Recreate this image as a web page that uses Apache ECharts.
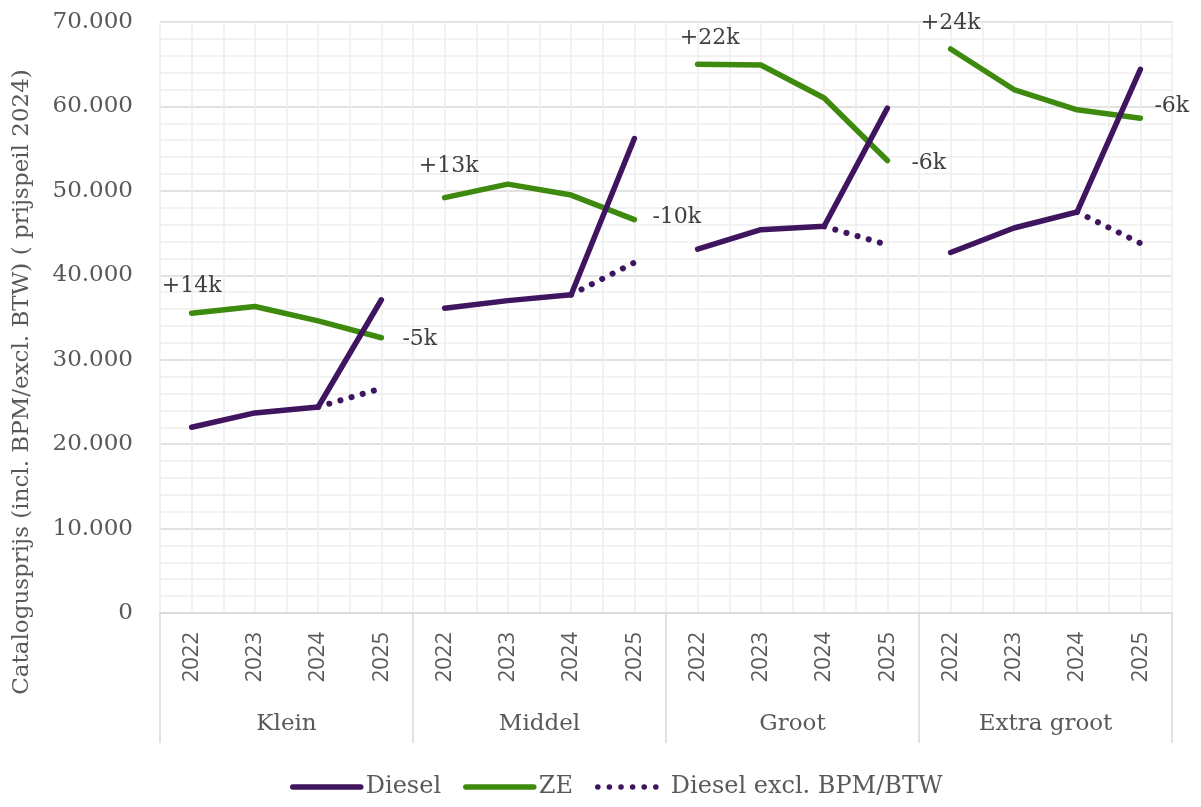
<!DOCTYPE html>
<html>
<head>
<meta charset="utf-8">
<script src="https://cdn.jsdelivr.net/npm/echarts@6/dist/echarts.min.js"></script>
<style>
html,body{margin:0;padding:0;background:#fff;}
#chart{width:1201px;height:807px;}
</style>
</head>
<body>
<div id="chart"></div>
<script>
const years = ['2022','2023','2024','2025'];
const groups = ['Klein','Middel','Groot','Extra groot'];
const yTicks = [0,10000,20000,30000,40000,50000,60000,70000];
const diesel = [22000,23700,24400,37100, 36100,37000,37700,56200, 43100,45400,45800,59800, 42700,45600,47500,64400];
const ze = [35500,36300,34600,32600, 49200,50800,49500,46600, 65000,64900,61000,53600, 66800,62000,59600,58600];
const dieselExcl = [null,null,24400,26600, null,null,37700,41500, null,null,45800,43600, null,null,47500,43800];
const zeStartLabels = ['+14k','+13k','+22k','+24k'];
const zeEndLabels = ['-5k','-10k','-6k','-6k'];

const SERIF = 'DejaVu Serif';
const SANS = 'Open Sans';
const TXT = '#595959';
const PURPLE = '#40155f';
const GREEN = '#3e8a0e';

const categories = [];
groups.forEach(() => years.forEach(y => categories.push(y)));

const startOffsets = [[0,-4],[4,-8],[12,-3],[0,-3]];
const endOffsets = [[3,2],[0,-2],[6,3],[-4,-12]];

function groupSlice(arr, g, mapFn) {
  return arr.map((v, i) => {
    if (Math.floor(i / 4) !== g) return null;
    return mapFn ? mapFn(v, i) : v;
  });
}

const series = [];
groups.forEach((grp, g) => {
  series.push({
    name: 'Diesel', type: 'line', xAxisIndex: 0, symbol: 'none',
    data: groupSlice(diesel, g),
    lineStyle: {color: PURPLE, width: 5.5, cap: 'round', join: 'round'},
    itemStyle: {color: PURPLE}, z: 3
  });
});
groups.forEach((grp, g) => {
  series.push({
    name: 'ZE', type: 'line', xAxisIndex: 0, symbol: 'circle', symbolSize: 0, showSymbol: true,
    data: groupSlice(ze, g, (v, i) => {
      const k = i % 4;
      if (k === 0) return {value: v, label: {show: true, position: 'top', distance: 12, offset: startOffsets[g], formatter: zeStartLabels[g]}};
      if (k === 3) return {value: v, label: {show: true, position: 'right', distance: 18, offset: endOffsets[g], formatter: zeEndLabels[g]}};
      return v;
    }),
    label: {fontFamily: SERIF, fontSize: 22, color: '#404040'},
    lineStyle: {color: GREEN, width: 5.5, cap: 'round', join: 'round'},
    itemStyle: {color: GREEN}, z: 2
  });
});
groups.forEach((grp, g) => {
  series.push({
    name: 'Diesel excl. BPM/BTW', type: 'line', xAxisIndex: 0, symbol: 'none',
    data: groupSlice(dieselExcl, g),
    lineStyle: {color: PURPLE, width: 6, type: [0.1, 11.5], cap: 'round'},
    itemStyle: {color: PURPLE}, z: 1
  });
});

const chart = echarts.init(document.getElementById('chart'), null, {renderer: 'canvas'});
chart.setOption({
  backgroundColor: '#ffffff',
  animation: false,
  grid: {left: 160, right: 29, top: 22, bottom: 194, containLabel: false},
  legend: {
    bottom: 3, left: 285,
    data: ['Diesel', 'ZE', 'Diesel excl. BPM/BTW'],
    itemWidth: 68, itemHeight: 14, itemGap: 22,
    itemStyle: {opacity: 0},
    lineStyle: {width: 5.5, cap: 'round'},
    textStyle: {fontFamily: SERIF, fontSize: 24, color: TXT}
  },
  graphic: [{
    type: 'text', x: 22, y: 382, rotation: Math.PI / 2,
    style: {text: 'Catalogusprijs (incl. BPM/excl. BTW) ( prijspeil 2024)', fontFamily: SERIF, fontSize: 23, fill: TXT, align: 'center', verticalAlign: 'middle'}
  }],
  xAxis: [
    {
      type: 'category', data: categories, position: 'bottom', boundaryGap: true,
      axisLine: {show: true, lineStyle: {color: '#d9d9d9', width: 1.5}},
      axisTick: {show: false},
      axisLabel: {interval: 0, rotate: 90, margin: 19, fontFamily: SANS, fontSize: 22, color: TXT},
      splitLine: {show: false}
    },
    {
      type: 'category', data: groups, position: 'bottom', boundaryGap: true,
      axisLine: {show: false},
      axisTick: {show: true, interval: 0, length: 130, lineStyle: {color: '#d9d9d9', width: 1.5}},
      axisLabel: {interval: 0, margin: 100, fontFamily: SERIF, fontSize: 23, color: TXT},
      splitLine: {show: false}
    },
    {
      type: 'value', position: 'top', min: 0, max: 32, interval: 1,
      axisLine: {show: false}, axisTick: {show: false}, axisLabel: {show: false},
      splitLine: {show: true, lineStyle: {color: '#eeeeee', width: 1.5}}
    }
  ],
  yAxis: {
    type: 'value', min: yTicks[0], max: yTicks[yTicks.length - 1], interval: yTicks[1] - yTicks[0],
    axisLine: {show: false}, axisTick: {show: false},
    axisLabel: {
      margin: 27, fontFamily: SERIF, fontSize: 23, color: TXT,
      formatter: v => v === 0 ? '0' : String(v).replace(/\B(?=(\d{3})+(?!\d))/g, '.')
    },
    splitLine: {show: true, lineStyle: {color: '#d9d9d9', width: 1.5}},
    minorTick: {show: false, splitNumber: 5},
    minorSplitLine: {show: true, lineStyle: {color: '#eeeeee', width: 1.5}}
  },
  series: series
});
</script>
</body>
</html>
